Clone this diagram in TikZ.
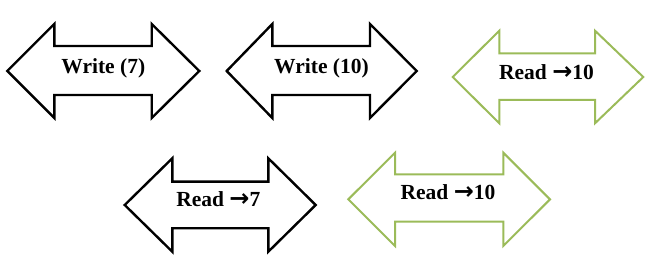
\documentclass[tikz,border=0pt]{standalone}
\usepackage{fontspec}
\setmainfont{Liberation Serif}
\newfontfamily\arrowfont{DejaVu Sans}
\definecolor{offgreen}{RGB}{155,187,89}
\tikzset{
  blackarr/.style={draw=black, line width=2.4pt, line join=miter, fill=white},
  greenarr/.style={draw=offgreen, line width=2pt, line join=miter, fill=white},
  lbl/.style={font=\fontsize{21.5}{24}\selectfont\bfseries, inner sep=0pt, anchor=base}
}
% #1 style, #2 left tip x, #3 left neck x, #4 right neck x, #5 right tip x,
% #6 head top y, #7 shaft top y, #8 shaft bottom y, #9 head bottom y
\newcommand\dblarrowshape[9]{%
  \draw[#1] (#2,{(#6+#9)/2}) -- (#3,#6) -- (#3,#7) -- (#4,#7) -- (#4,#6)
    -- (#5,{(#6+#9)/2}) -- (#4,#9) -- (#4,#8) -- (#3,#8) -- (#3,#9) -- cycle;}
\newcommand\rarr{{\arrowfont\fontsize{24}{24}\selectfont\bfseries →}}
\begin{document}
\begin{tikzpicture}[x=1pt,y=-1pt]
\useasboundingbox (0,0) rectangle (653,264);
\dblarrowshape{blackarr}{7.3}{54.3}{151.7}{199.3}{24}{46}{95}{118}
\dblarrowshape{blackarr}{226.7}{272.3}{370}{416.7}{24}{46}{95}{118}
\dblarrowshape{greenarr}{452.7}{499.3}{595}{643.3}{30.7}{53.3}{100}{123.3}
\dblarrowshape{blackarr}{124.7}{172.3}{268.3}{315.7}{158.3}{181.7}{228.3}{251.7}
\dblarrowshape{greenarr}{348.3}{395}{503.3}{550}{152.7}{174.3}{221.7}{246}
\node[lbl] (t1) at (103.3,74) {Write (7)};
\node[lbl] (t2) at (321.5,73.5) {Write (10)};
\node[lbl] (t3) at (546.5,80) {Read \rarr10};
\node[lbl] (t4) at (218.3,206.7) {Read \rarr7};
\node[lbl] (t5) at (448,200) {Read \rarr10};
\end{tikzpicture}
\end{document}
